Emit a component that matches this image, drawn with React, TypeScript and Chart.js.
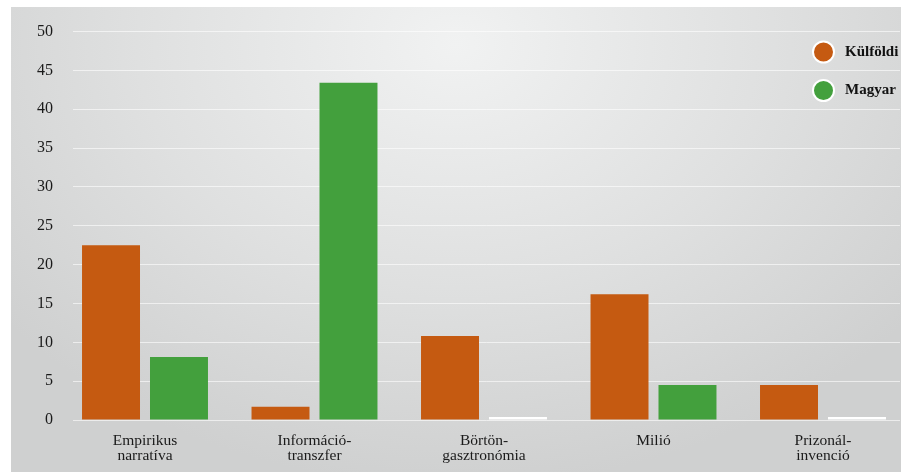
import React, { useEffect, useRef } from "react";
import { Chart, registerables } from "chart.js";

Chart.register(...registerables);

// ---- data ----
const categories: string[][] = [
  ["Empirikus", "narratíva"],
  ["Információ-", "transzfer"],
  ["Börtön-", "gasztronómia"],
  ["Milió"],
  ["Prizonál-", "invenció"],
];
const seriesNames = ["Külföldi", "Magyar"];
const kulfoldi = [22.5, 1.7, 10.8, 16.2, 4.5];
const magyar = [8.1, 43.4, 0, 4.5, 0];
const yMin = 0;
const yMax = 50;
const yStep = 5;

// ---- style ----
const ORANGE = "#C55A11";
const GREEN = "#43A03D";
const FONT = '"Liberation Serif", "DejaVu Serif", serif';
const TEXT = "#1a1a1a";

const legendPlugin = {
  id: "circleLegend",
  afterDraw(chart: any) {
    const ctx = chart.ctx;
    const area = chart.chartArea;
    chart.data.datasets.forEach((ds: any, i: number) => {
      const cx = area.right - 76.5;
      const cy = area.top + 20.5 + i * 38.5;
      ctx.save();
      ctx.beginPath();
      ctx.arc(cx, cy, 10.5, 0, Math.PI * 2);
      ctx.fillStyle = ds.legendColor;
      ctx.fill();
      ctx.lineWidth = 2;
      ctx.strokeStyle = "#ffffff";
      ctx.stroke();
      ctx.font = `bold 15px ${FONT}`;
      ctx.fillStyle = "#111";
      ctx.textAlign = "left";
      ctx.textBaseline = "middle";
      ctx.fillText(ds.label, cx + 21.5, cy);
      ctx.restore();
    });
  },
};

export default function App() {
  const canvasRef = useRef<HTMLCanvasElement | null>(null);

  useEffect(() => {
    if (!canvasRef.current) return;
    const zeroWhite = (color: string) => (c: any) =>
      c.raw && c.raw.y === 0 ? "#ffffff" : color;

    const chart = new Chart(canvasRef.current, {
      type: "bar",
      data: {
        datasets: [
          {
            label: seriesNames[0],
            data: kulfoldi.map((v, i) => ({ x: i, y: v })),
            backgroundColor: zeroWhite(ORANGE),
            legendColor: ORANGE,
            minBarLength: 3,
          } as any,
          {
            label: seriesNames[1],
            data: magyar.map((v, i) => ({ x: i, y: v })),
            backgroundColor: zeroWhite(GREEN),
            legendColor: GREEN,
            minBarLength: 3,
          } as any,
        ],
      },
      options: {
        animation: false,
        responsive: true,
        maintainAspectRatio: false,
        layout: { padding: { top: 24.5, right: 1, left: 0, bottom: 0 } },
        categoryPercentage: 0.802,
        barPercentage: 0.853,
        plugins: {
          legend: { display: false },
          tooltip: { enabled: false },
        },
        scales: {
          x: {
            type: "linear",
            offset: false,
            min: -0.4248,
            max: 4.4543,
            grid: { display: false, offset: false },
            border: { display: false },
            afterBuildTicks: (scale: any) => {
              scale.ticks = categories.map((_, i) => ({ value: i }));
            },
            afterFit: (scale: any) => {
              scale.height = 52;
              scale.paddingLeft = 0;
              scale.paddingRight = 0;
            },
            ticks: {
              autoSkip: false,
              maxRotation: 0,
              padding: 5,
              color: TEXT,
              font: { family: FONT, size: 15.5, lineHeight: 0.98 },
              callback: (v: any) => categories[v as number] ?? "",
            },
          },
          y: {
            min: yMin,
            max: yMax,
            border: { display: false },
            grid: {
              color: "rgba(255,255,255,0.6)",
              lineWidth: 1,
              drawTicks: false,
            },
            afterFit: (scale: any) => {
              scale.width = 62;
              scale.paddingTop = 0;
              scale.paddingBottom = 0;
            },
            ticks: {
              stepSize: yStep,
              padding: 20,
              color: TEXT,
              font: { family: FONT, size: 16 },
            },
          },
        },
      } as any,
      plugins: [legendPlugin],
    });
    return () => chart.destroy();
  }, []);

  return (
    <div
      style={{
        position: "absolute",
        left: 11,
        top: 7,
        width: 890,
        height: 465,
        background:
          "radial-gradient(ellipse 65% 95% at 50% 8%, #f1f2f2 0%, #dfe0e0 55%, #cfd0d0 100%)",
      }}
    >
      <canvas ref={canvasRef} />
    </div>
  );
}
